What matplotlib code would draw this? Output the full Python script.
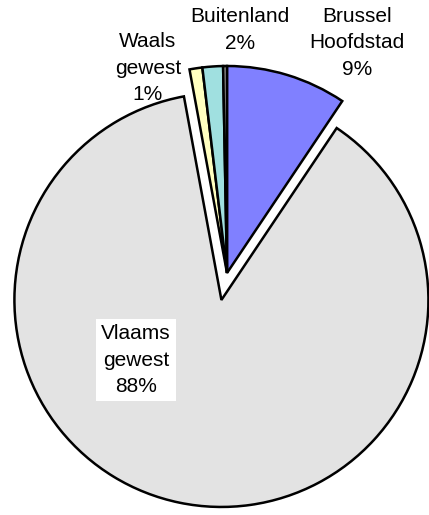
import matplotlib.pyplot as plt

# shares per region (%), clockwise from 12 o'clock
regions = ["Brussel\nHoofdstad", "Vlaams\ngewest", "Waals\ngewest", "Buitenland", ""]
shares = [9.4, 87.7, 1.0, 1.6, 0.3]
pct_labels = ["9%", "88%", "1%", "2%", ""]
colors = ["#8080FF", "#E3E3E3", "#FFFFC0", "#A0E0E0", "#969696"]

W, H = 429, 515
R = 207
# pie's explode offset is in data units, so scale by radius
explode = [0, 0.133 * R, 0, 0, 0]

fig = plt.figure(figsize=(W / 100, H / 100), dpi=100)
ax = fig.add_axes([0, 0, 1, 1])

ax.pie(shares, colors=colors, explode=explode, startangle=90, counterclock=False,
       radius=R, center=(227, H - 273), frame=True,
       wedgeprops=dict(edgecolor="black", linewidth=1.8))

ax.set_xlim(0, W)
ax.set_ylim(0, H)
ax.set_aspect("equal")
ax.axis("off")

txt = dict(ha="center", va="center", fontsize=15, family="Liberation Sans",
           linespacing=1.5)
# label positions in pixels (x, y from top)
label_pos = [(357, 43), (136, 360), (148, 68), (240, 30)]
for name, pct, (x, y) in zip(regions, pct_labels, label_pos):
    t = ax.text(x, H - y, name + "\n" + pct, **txt)
    if name.startswith("Vlaams"):
        t.set_bbox(dict(boxstyle="square,pad=0.25", facecolor="white", edgecolor="none"))

fig.savefig("out.png", dpi=100)
